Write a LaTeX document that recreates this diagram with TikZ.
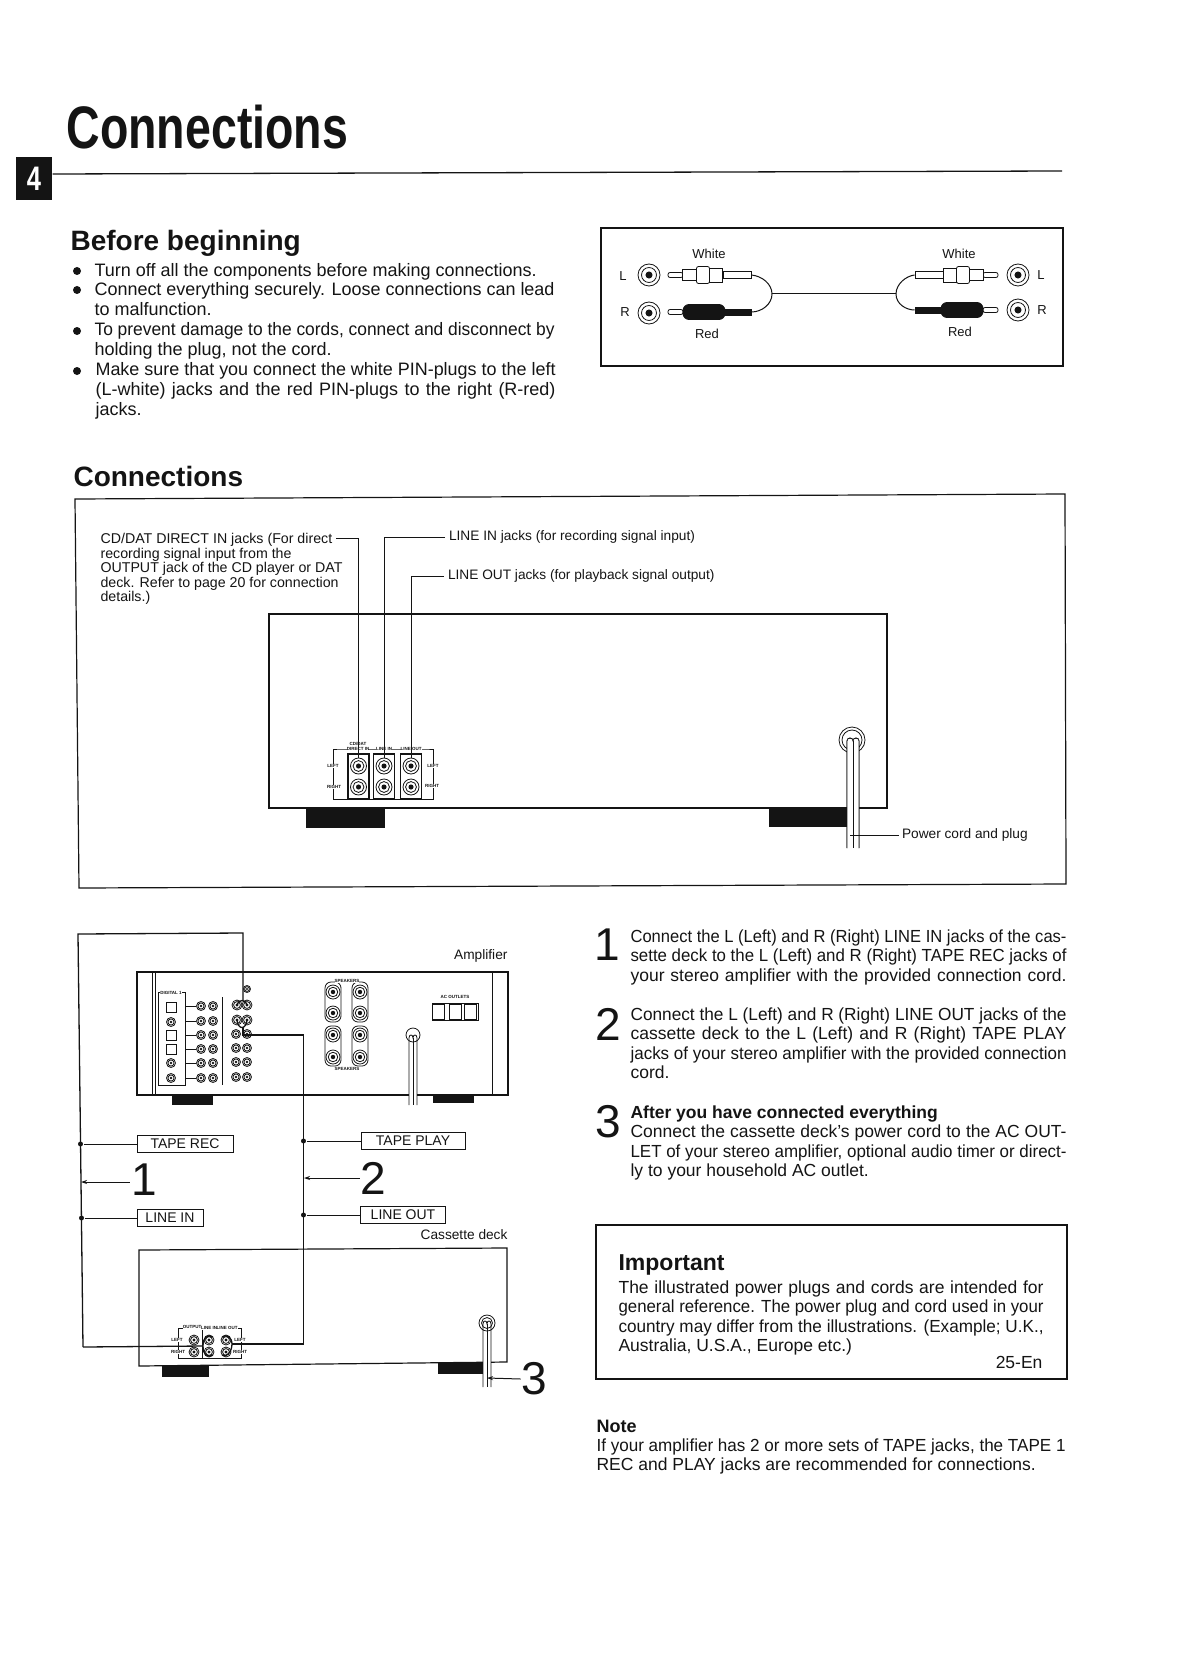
\documentclass[tikz,border=0pt]{standalone}
\usepackage{fontspec}
\setmainfont{Liberation Sans}
\usetikzlibrary{
  arrows.meta,
  shapes.geometric
}
\definecolor{inkblack}{RGB}{20,20,20}
\newsavebox{\flinebox}
\newcommand{\fline}[2]{\sbox{\flinebox}{#2}%
  \ifdim\wd\flinebox>#1pt\resizebox{#1pt}{\ht\flinebox}{\usebox{\flinebox}}\else\makebox[#1pt][s]{#2}\fi}
% name, position, radius
\newcommand{\jack}[3]{
  \node[jackring,minimum size={2*#3 pt}] (#1) at (#2) {};
  \draw[thinline] (#1.center) circle ({0.68*#3 pt});
  \fill[inkblack] (#1.center) circle ({0.32*#3 pt});
}
% name, tip x, y, direction
\newcommand{\whiteplug}[4]{
  \node[plugpart,minimum width=15pt,minimum height=5pt,rounded corners=2pt] (#1tip) at ({#2+#4*7.5},#3) {};
  \node[plugpart,minimum width=15pt,minimum height=11pt] (#1neck) at ({#2+#4*22},#3) {};
  \node[plugpart,minimum width=13pt,minimum height=17pt,rounded corners=2pt] (#1grip) at ({#2+#4*35},#3) {};
  \node[plugpart,minimum width=13pt,minimum height=14pt] (#1rib) at ({#2+#4*48},#3) {};
  \node[plugpart,minimum width=28pt,minimum height=7pt] (#1tail) at ({#2+#4*69},#3) {};
}
\newcommand{\redplug}[4]{
  \node[plugpart,minimum width=15pt,minimum height=5pt,rounded corners=2pt] (#1tip) at ({#2+#4*7.5},#3) {};
  \node[plugred,minimum width=42pt,minimum height=15pt,rounded corners=6pt] (#1grip) at ({#2+#4*36},#3) {};
  \node[plugred,minimum width=36pt,minimum height=6pt] (#1tail) at ({#2+#4*65},#3) {};
}
% x, top y, length, half spacing of the wires
\newcommand{\powercord}[4]{
  \fill[white] ({#1-#4},#2) rectangle ({#1+#4},{#2+#3});
  \draw[thinline] ({#1-#4},{#2+#3}) -- ({#1-#4},{#2+2}) .. controls ({#1-#4},{#2-2}) and (#1,{#2-2}) .. (#1,{#2+2})
    .. controls (#1,{#2-2}) and ({#1+#4},{#2-2}) .. ({#1+#4},{#2+2}) -- ({#1+#4},{#2+#3});
  \draw[thinline] (#1,{#2+2}) -- (#1,{#2+#3});
}
\begin{document}
\begin{tikzpicture}[
  x=1pt,y=-1pt,
  line width=1.1pt,draw=inkblack,text=inkblack,
  thinline/.style={line width=0.8pt},
  wire/.style={line width=1.3pt},
  leader/.style={line width=1pt},
  arr/.style={-{Stealth[length=6pt,width=4pt]},line width=1pt},
  body/.style={inner sep=0,anchor=north west,align=left,font=\fontsize{18}{20}\selectfont},
  nbody/.style={inner sep=0,anchor=north west,align=left,font=\fontsize{17.5}{19.5}\selectfont},
  small/.style={inner sep=0,font=\fontsize{13.7}{14.5}\selectfont},
  tiny/.style={inner sep=0,fill=white,font=\fontsize{4.5}{5}\selectfont\bfseries},
  digit/.style={inner sep=0,font=\fontsize{46}{46}\selectfont},
  tapebox/.style={draw,thinline,inner sep=0,minimum height=17pt,font=\fontsize{14}{14}\selectfont},
  dot/.style={circle,fill=inkblack,inner sep=0,minimum size=5pt},
  bullet/.style={circle,fill=inkblack,inner sep=0,minimum size=8pt},
  jackring/.style={circle,draw,thinline,fill=white,inner sep=0},
  plugpart/.style={draw,thinline,fill=white,inner sep=0},
  plugred/.style={draw,thinline,fill=inkblack,inner sep=0},
  foot/.style={fill=inkblack},
  cable/.style={line width=1pt},
  switchbox/.style={draw,thinline,fill=white,inner sep=0,minimum width=12pt,minimum height=15pt},
]
\useasboundingbox (0,0) rectangle (1179,1669);

% header
\node[inner sep=0,anchor=base west,font=\fontsize{60}{60}\selectfont\bfseries] (title) at (66,149)
  {\scalebox{.775}[1]{Connections}};
\node[fill=inkblack,minimum width=36pt,minimum height=43pt,inner sep=0,text=white,font=\fontsize{34}{34}\selectfont\bfseries] (secno) at (34,179)
  {\scalebox{.75}[1]{4}};
\draw[line width=1.3pt] (secno.east |- 0,174) -- (1062,171);

% before beginning
\node[inner sep=0,anchor=base west,font=\fontsize{28}{28}\selectfont\bfseries] (before) at (70,251) {Before beginning};
\node[bullet] (b1) at (77,271) {};
\node[bullet] (b2) at (77,290) {};
\node[bullet] (b3) at (77,331) {};
\node[bullet] (b4) at (77,371) {};
\node[body] (t1) at (94,263) {Turn off all the components before making connections.};
\node[body] (t2) at (94,282) {\fline{460}{Connect everything securely. Loose connections can lead}\\to malfunction.};
\node[body] (t3) at (94,322) {\fline{460}{To prevent damage to the cords, connect and disconnect by}\\holding the plug, not the cord.};
\node[body] (t4) at (95,362) {\fline{460}{Make sure that you connect the white PIN-plugs to the left}\\
  \fline{460}{(L-white) jacks and the red PIN-plugs to the right (R-red)}\\jacks.};

% pin cord
\draw[line width=1.1pt] (601,228) rectangle (1063,366);
\node[small,font=\fontsize{13}{13}\selectfont] (whiteL) at (709,254) {White};
\node[small,font=\fontsize{13}{13}\selectfont] (whiteR) at (959,254) {White};
\node[small,font=\fontsize{13}{13}\selectfont] (redL) at (707,334) {Red};
\node[small,font=\fontsize{13}{13}\selectfont] (redR) at (960,332) {Red};
\node[small,font=\fontsize{13}{13}\selectfont] (leftL) at (623,276) {L};
\node[small,font=\fontsize{13}{13}\selectfont] (rightL) at (625,312) {R};
\node[small,font=\fontsize{13}{13}\selectfont] (leftR) at (1041,275) {L};
\node[small,font=\fontsize{13}{13}\selectfont] (rightR) at (1042,310) {R};
\jack{jackLa}{649,275}{11}
\jack{jackLb}{649,313}{11}
\jack{jackRa}{1018,275}{11}
\jack{jackRb}{1018,310}{11}
\whiteplug{wl}{668}{275}{1}
\redplug{rl}{668}{312}{1}
\whiteplug{wr}{998}{275}{-1}
\redplug{rr}{998}{310}{-1}
\coordinate (splitL) at (772,294);
\coordinate (splitR) at (896,294);
\draw[cable] (wltail.east) .. controls (762,276) and (772,284) .. (splitL);
\draw[cable] (rltail.east) .. controls (762,312) and (772,304) .. (splitL);
\draw[cable] (wrtail.west) .. controls (906,276) and (896,284) .. (splitR);
\draw[cable] (rrtail.west) .. controls (906,310) and (896,304) .. (splitR);
\draw[cable] (splitL) -- (splitR);

% deck rear panel
\node[inner sep=0,anchor=base west,font=\fontsize{28}{28}\selectfont\bfseries] (connhead) at (73,486) {Connections};
\draw[line width=1.2pt] (75,499) -- (1065,494) -- (1066,884) -- (79,888) -- cycle;
\draw[line width=1.3pt] (269,808) -- (269,614) -- (887,614) -- (887,808) -- cycle;
\fill[foot] (306,808) rectangle (385,828);
\fill[foot] (769,807) rectangle (847,827);
\powercord{853}{739}{109}{6}
\draw[thinline] (852,740) circle (10pt) (852,740) circle (13pt);
\powercord{853}{739}{109}{6}
\node[small,anchor=west,outer xsep=3pt] (powertxt) at (899,835) {Power cord and plug};
\coordinate (powertap) at (850,835);
\draw[leader] (powertap) -- (powertxt.west);

\node[small,font=\fontsize{14.2}{14.5}\selectfont,anchor=north west,align=left] (cdtxt) at (100,533)
  {CD/DAT DIRECT IN jacks (For direct\\recording signal input from the\\OUTPUT jack of the CD player or DAT\\deck. Refer to page 20 for connection\\details.)};
\node[small,anchor=west,outer xsep=4pt] (linein) at (445,537) {LINE IN jacks (for recording signal input)};
\node[small,anchor=west,outer xsep=4pt] (lineout) at (444,576) {LINE OUT jacks (for playback signal output)};
\draw[thinline] (340,749) -- (333,749) -- (333,799) -- (433,799) -- (433,749) -- (426,749) -- cycle;
\foreach \nm/\bx in {cd/358.5,li/384,lo/411}{
  \draw[line width=1.1pt] (\bx-10.5,754) rectangle (\bx+10.5,799);
  \jack{\nm a}{\bx,766}{8}
  \jack{\nm b}{\bx,787}{8}
}
\node[tiny] (pcd) at (358,749) {DIRECT IN};
\node[tiny] (pcdb) at (358,744) {CD/DAT};
\node[tiny] (pli) at (384,749) {LINE IN};
\node[tiny] (plo) at (411,749) {LINE OUT};
\node[tiny] (pla) at (333,766) {LEFT};
\node[tiny] (plb) at (334,787) {RIGHT};
\node[tiny] (pra) at (433,766) {LEFT};
\node[tiny] (prb) at (432,786) {RIGHT};
\coordinate (cdstart) at (336,538);
\draw[leader] (cdstart) -| (cda.north);
\draw[leader] (linein.west) -| (lia.north);
\draw[leader] (lineout.west) -| (loa.north);

% amplifier
\node[small,anchor=east] (amptxt) at (508,956) {Amplifier};
\draw[line width=1.3pt] (137,972) rectangle (508,1095);
\draw[thinline] (152,972) -- (152,1095) (155,972) -- (155,1095) (492,972) -- (492,1095);
\fill[foot] (172,1096) rectangle (213,1105);
\fill[foot] (433,1095) rectangle (474,1103);
\draw[thinline] (175,992) -- (158,992) -- (158,1085) -- (185,1085) -- (185,992) -- cycle;
\foreach \yy in {1007,1035,1049}{
  \draw[line width=1pt] (166,\yy-5) rectangle (176,\yy+5);
}
\foreach \yy in {1022,1063,1078}{
  \jack{dg\yy}{171,\yy}{4.5}
}
\foreach \yy in {1006,1021,1035,1049,1063,1078}{
  \jack{ma\yy}{201,\yy}{4.5}
  \jack{mb\yy}{213,\yy}{4.5}
  \draw[thinline] (186,\yy) -- (196,\yy);
}
\draw[thinline] (222,997) -- (222,1085);
\jack{acg}{247,989}{3.5}
\foreach \yy in {1034,1048,1062,1077}{
  \jack{ca\yy}{236,\yy}{4.5}
  \jack{cb\yy}{247,\yy}{4.5}
}
\jack{recL}{237,1005}{5}
\jack{recR}{247,1005}{5}
\jack{playL}{237,1020}{5}
\jack{playR}{247,1020}{5}
\foreach \xx/\nm in {333/spa,360/spb}{
  \draw[thinline,rounded corners=6pt] (\xx-8,982) rectangle (\xx+8,1022);
  \draw[thinline,rounded corners=6pt] (\xx-8,1026) rectangle (\xx+8,1066);
  \jack{\nm a}{\xx,992}{7}
  \jack{\nm b}{\xx,1013}{7}
  \jack{\nm c}{\xx,1035}{7}
  \jack{\nm d}{\xx,1057}{7}
}
\node[tiny] (sptop) at (347,981) {SPEAKERS};
\node[tiny] (spbot) at (347,1069) {SPEAKERS};
\node[tiny] (actxt) at (455,997) {AC OUTLETS};
\node[tiny] (digtxt) at (171,993) {DIGITAL 1};
\draw[line width=1pt] (432,1003) rectangle (478,1020);
\node[switchbox] (swa) at (438,1012) {};
\node[switchbox] (swb) at (455,1012) {};
\node[switchbox] (swc) at (470,1012) {};
\powercord{413}{1036}{69}{4}
\draw[thinline] (413,1035) circle (7pt);

% cassette deck
\node[small,anchor=east] (decktxt) at (508,1235) {Cassette deck};
\draw[line width=1.2pt] (139,1250) -- (507,1248) -- (507,1362) -- (139,1366) -- cycle;
\fill[foot] (162,1365) rectangle (209,1377);
\fill[foot] (438,1362) rectangle (483,1374);
\powercord{487}{1322}{65}{4}
\draw[thinline] (487,1323) circle (8pt) (487,1323) circle (5.5pt);
\draw[thinline] (190,1328) -- (178,1328) -- (178,1358) -- (241,1358) -- (241,1328) -- cycle;
\draw[thinline] (202,1328) -- (202,1358);
\node[tiny] (dka) at (192,1327) {OUTPUT};
\node[tiny] (dkb) at (209,1328) {LINE IN};
\node[tiny] (dkc) at (227,1328) {LINE OUT};
\node[tiny] (dkd) at (177,1340) {LEFT};
\node[tiny] (dke) at (178,1352) {RIGHT};
\node[tiny] (dkf) at (240,1340) {LEFT};
\node[tiny] (dkg) at (240,1352) {RIGHT};
\foreach \nm/\xx in {da/194,db/209,dc/226}{
  \jack{\nm a}{\xx,1340}{5}
  \jack{\nm b}{\xx,1352}{5}
}

% tape labels and cords
\node[tapebox,minimum width=96pt] (taperec) at (185,1144) {TAPE REC};
\node[tapebox,minimum width=66pt] (linein2) at (170,1218) {LINE IN};
\node[tapebox,minimum width=104pt] (tapeplay) at (413,1141) {TAPE PLAY};
\node[tapebox,minimum width=85pt] (lineout2) at (403,1215) {LINE OUT};
\node[digit] (num1) at (144,1180) {1};
\node[digit] (num2) at (373,1178) {2};
\node[digit] (num3) at (534,1379) {3};
\coordinate (cordtop) at (78,934);
\coordinate (cordbot) at (83,1347);
\coordinate (cordin) at (203,1346);
\coordinate (cordout) at (232,1344);
\coordinate (cordturn) at (303.5,1344);
\node[dot] (dotrec) at (80.5,1144) {};
\node[dot] (dotin) at (81.5,1218) {};
\coordinate (tap1) at (81,1182);
\node[dot] (dotplay) at (303.5,1141) {};
\node[dot] (dotout) at (303.5,1215) {};
\coordinate (tap2) at (304,1178);
\coordinate (tap3) at (487,1378);
\draw[wire] (recL.center) .. controls (238,999) and (246,999) .. (recR.center);
\draw[wire] (playL.center) .. controls (238,1030) and (246,1030) .. (playR.center);
\draw[wire] (cordbot) -- (cordtop) -- (243,933) -- (243,1001);
\draw[wire] (cordbot) -- (cordin);
\draw[wire] (cordin) .. controls (203,1337) and (208,1334) .. (213,1337);
\draw[wire] (cordin) .. controls (203,1355) and (208,1358) .. (213,1355);
\draw[wire] (cordout) .. controls (232,1337) and (226,1334) .. (222,1337);
\draw[wire] (cordout) .. controls (232,1352) and (226,1358) .. (222,1355);
\draw[wire] (cordout) -- (cordturn) -- (303.5,1035) -- (243,1035) -- (243,1027);
\draw[leader] (taperec.west) -- (dotrec);
\draw[leader] (linein2.west) -- (dotin);
\draw[leader] (tapeplay.west) -- (dotplay);
\draw[leader] (lineout2.west) -- (dotout);
\draw[arr] (num1.west) ++(-1,2) -- (tap1);
\draw[arr] (num2.west) -- (tap2);
\draw[arr] (num3.west) -- (tap3);

% steps
\node[digit] (step1) at (607,945) {1};
\node[digit] (step2) at (608,1024) {2};
\node[digit] (step3) at (608,1122) {3};
\node[nbody] (stept1) at (630,929) {\fline{436}{Connect the L (Left) and R (Right) LINE IN jacks of the cas-}\\
  \fline{436}{sette deck to the L (Left) and R (Right) TAPE REC jacks of}\\
  \fline{436}{your stereo amplifier with the provided connection cord.}};
\node[nbody] (stept2) at (630,1007) {\fline{436}{Connect the L (Left) and R (Right) LINE OUT jacks of the}\\
  \fline{436}{cassette deck to the L (Left) and R (Right) TAPE PLAY}\\
  \fline{436}{jacks of your stereo amplifier with the provided connection}\\cord.};
\node[nbody] (stept3) at (630,1105) {\textbf{After you have connected everything}\\
  \fline{436}{Connect the cassette deck's power cord to the AC OUT-}\\
  \fline{436}{LET of your stereo amplifier, optional audio timer or direct-}\\
  ly to your household AC outlet.};

% important and note
\draw[line width=1.1pt] (596,1225) rectangle (1067,1379);
\node[inner sep=0,anchor=base west,font=\fontsize{23}{23}\selectfont\bfseries] (imphead) at (618,1270) {Important};
\node[nbody] (imptxt) at (618,1280) {\fline{425}{The illustrated power plugs and cords are intended for}\\
  \fline{425}{general reference. The power plug and cord used in your}\\
  \fline{425}{country may differ from the illustrations. (Example; U.K.,}\\
  Australia, U.S.A., Europe etc.)};
\node[inner sep=0,anchor=base east,font=\fontsize{17.5}{18}\selectfont] (pageno) at (1043,1368) {25-En};
\node[inner sep=0,anchor=base west,font=\fontsize{18}{18}\selectfont\bfseries] (notehead) at (596,1432) {Note};
\node[nbody] (notetxt) at (596,1438) {\fline{469}{If your amplifier has 2 or more sets of TAPE jacks, the TAPE 1}\\
  REC and PLAY jacks are recommended for connections.};
\end{tikzpicture}
\end{document}
